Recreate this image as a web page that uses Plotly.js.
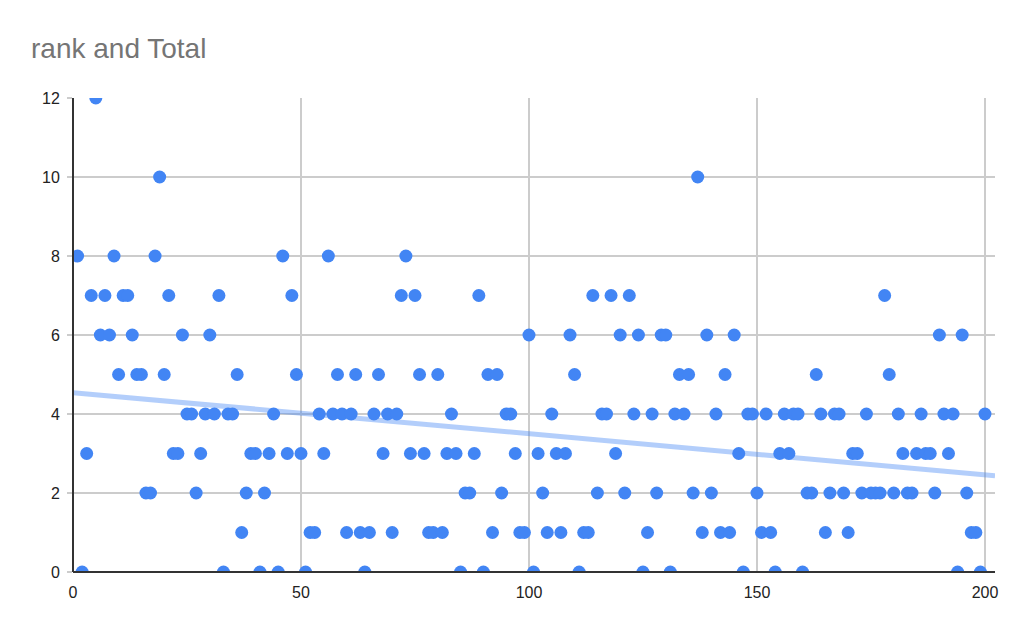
<!DOCTYPE html>
<html>
<head>
<meta charset="utf-8">
<script src="https://cdn.plot.ly/plotly-3.0.1.min.js"></script>
<style>html,body{margin:0;padding:0;background:#fff;}#chart{width:1027px;height:636px;}</style>
</head>
<body>
<div id="chart"></div>
<script>
// rank 1..200
var rank = [];
for (var i = 1; i <= 200; i++) rank.push(i);

var total = [
  8,0,3,7,12,6,7,6,8,5,   7,7,6,5,5,2,2,8,10,5,
  7,3,3,6,4,4,2,3,4,6,    4,7,0,4,4,5,1,2,3,3,
  0,2,3,4,0,8,3,7,5,3,    0,1,1,4,3,8,4,5,4,1,
  4,5,1,0,1,4,5,3,4,1,    4,7,8,3,7,5,3,1,1,5,
  1,3,4,3,0,2,2,3,7,0,    5,1,5,2,4,4,3,1,1,6,
  0,3,2,1,4,3,1,3,6,5,    0,1,1,7,2,4,4,7,3,6,
  2,7,4,6,0,1,4,2,6,6,    0,4,5,4,5,2,10,1,6,2,
  4,1,5,1,6,3,0,4,4,2,    1,4,1,0,3,4,3,4,4,0,
  2,2,5,4,1,2,4,4,2,1,    3,3,2,4,2,2,2,7,5,2,
  4,3,2,2,3,4,3,3,2,6,    4,3,4,0,6,2,1,1,0,4
];

var xTicks = [0, 50, 100, 150, 200];
var yTicks = [0, 2, 4, 6, 8, 10, 12];

// least-squares trendline
var n = rank.length, sx = 0, sy = 0, sxx = 0, sxy = 0;
for (var k = 0; k < n; k++) {
  sx += rank[k]; sy += total[k]; sxx += rank[k] * rank[k]; sxy += rank[k] * total[k];
}
var slope = (n * sxy - sx * sy) / (n * sxx - sx * sx);
var intercept = (sy - slope * sx) / n;
var xMax = 202.2;
var trendX = [0, xMax];
var trendY = trendX.map(function (x) { return intercept + slope * x; });

var data = [
  {
    x: trendX, y: trendY, mode: 'lines', type: 'scatter',
    line: {color: 'rgba(66,133,244,0.4)', width: 5},
    hoverinfo: 'skip', showlegend: false
  },
  {
    x: rank, y: total, mode: 'markers', type: 'scatter',
    marker: {color: '#4285F4', size: 13},
    showlegend: false
  }
];

var layout = {
  width: 1027, height: 636,
  margin: {l: 73, r: 32, t: 98, b: 64},
  paper_bgcolor: '#fff', plot_bgcolor: '#fff',
  font: {family: 'Arial, "Liberation Sans", sans-serif', color: '#222', size: 16},
  title: {
    text: 'rank and Total',
    x: 0, xref: 'paper', xanchor: 'left',
    y: 0.925, yref: 'container', yanchor: 'middle',
    pad: {l: -42},
    font: {family: 'Arial, "Liberation Sans", sans-serif', size: 28, color: '#757575'}
  },
  xaxis: {
    range: [0, xMax], tickvals: xTicks, ticktext: xTicks.map(String),
    showgrid: true, gridcolor: '#cccccc', gridwidth: 2,
    zeroline: false, showline: false, ticks: '', ticklabelstandoff: 9,
    tickfont: {size: 16, color: '#222'}, fixedrange: true
  },
  yaxis: {
    range: [0, 12], tickvals: yTicks, ticktext: yTicks.map(String),
    showgrid: true, gridcolor: '#cccccc', gridwidth: 2,
    zeroline: false, showline: false, ticks: 'outside', ticklen: 5, tickcolor: '#cccccc', tickwidth: 2,
    ticklabelstandoff: 4,
    tickfont: {size: 16, color: '#222'}, fixedrange: true
  },
  shapes: [
    {type: 'line', xref: 'paper', yref: 'paper', x0: 0, x1: 0, y0: 0, y1: 1,
     line: {color: '#333', width: 2}},
    {type: 'line', xref: 'paper', yref: 'paper', x0: 0, x1: 1, y0: 0, y1: 0,
     line: {color: '#333', width: 2}}
  ]
};

Plotly.newPlot('chart', data, layout, {displayModeBar: false, staticPlot: true});
</script>
</body>
</html>
